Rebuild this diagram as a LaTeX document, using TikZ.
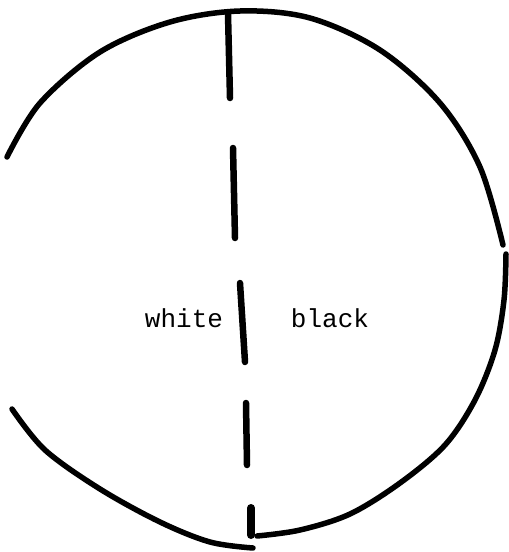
\documentclass[tikz,border=0pt]{standalone}
\usepackage{fontspec}
\newfontfamily\typew{Liberation Mono}
\begin{document}
\begin{tikzpicture}[x=1pt,y=-1pt,
  rim/.style={line width=5.5pt, line cap=round, line join=round},
  divider/.style={line width=6.5pt, line cap=round},
  word/.style={font=\typew\fontsize{26}{26}\selectfont, inner sep=0pt, anchor=base}]
\useasboundingbox (0,0) rectangle (509,552);
% upper arc and right side
\draw[rim] plot[smooth, tension=0.55] coordinates {
  (7,157) (40,103) (100,52) (170,22) (240,11) (310,18) (380,50)
  (440,103) (480,167) (503,245)};
\draw[rim] plot[smooth, tension=0.55] coordinates {
  (506,254) (504,300) (495,350) (475,400) (445,445) (400,483)
  (350,514) (300,530) (257,536)};
% lower left arc
\draw[rim] plot[smooth, tension=0.55] coordinates {
  (12,409) (45,450) (100,489) (160,522) (210,542) (253,548)};
% dashed divider
\draw[divider] (228,14) -- (230,98);
\draw[divider] (233,148) -- (235,238);
\draw[divider] (240,283) -- (245,362);
\draw[divider] (246,403) -- (247,465);
\draw[divider, line width=8pt] (251,508) -- (251,535);
% labels
\node[word] (white) at (184,327) {white};
\node[word] (black) at (330,327) {black};
\end{tikzpicture}
\end{document}
